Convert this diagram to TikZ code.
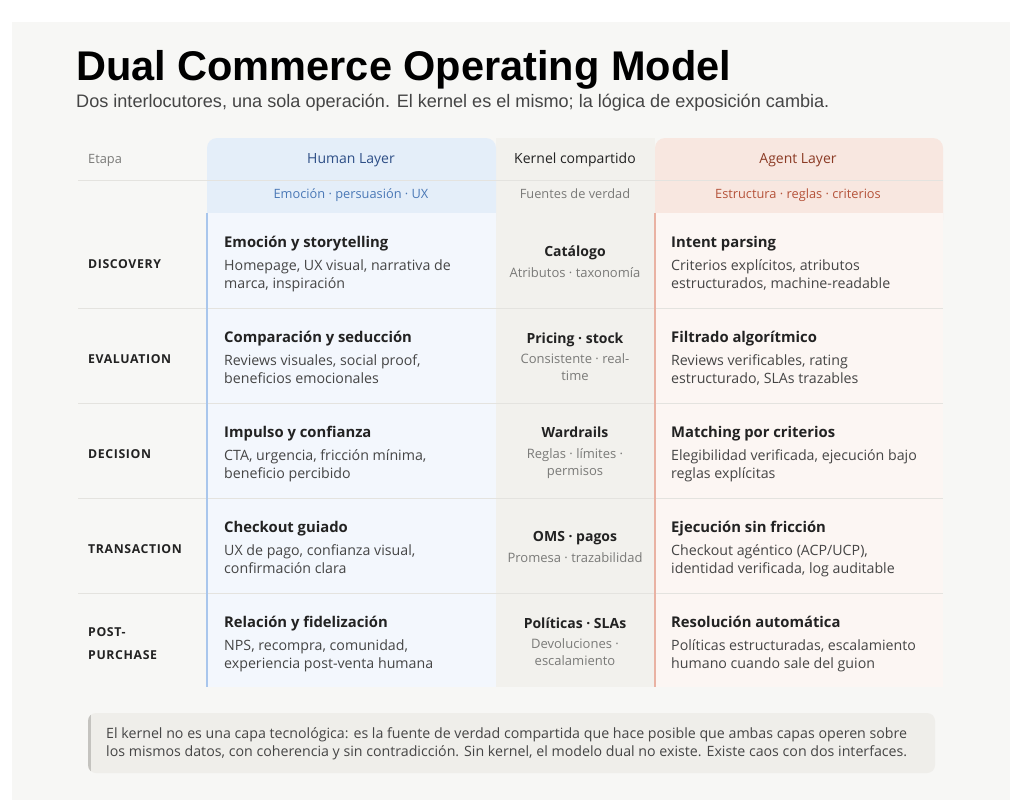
\documentclass[tikz,border=0pt]{standalone}
\usepackage{fontspec}
\usepackage{xcolor}
\usepackage{tikz}
\setmainfont{Open Sans}
\newfontfamily\titlefont{Liberation Sans}
\newfontfamily\stagefont[LetterSpace=5]{Open Sans}

\definecolor{panel}{HTML}{F7F7F5}
\definecolor{rule}{HTML}{E4E3DF}
\definecolor{ink}{HTML}{222222}
\definecolor{body}{HTML}{454545}
\definecolor{mute}{HTML}{7A7A78}
\definecolor{humhead}{HTML}{E4EEF9}
\definecolor{humbody}{HTML}{F3F7FD}
\definecolor{humline}{HTML}{A9C6EC}
\definecolor{humdark}{HTML}{2D4E86}
\definecolor{humsoft}{HTML}{4A78B6}
\definecolor{kernbg}{HTML}{F2F1ED}
\definecolor{agthead}{HTML}{F8E7E0}
\definecolor{agtbody}{HTML}{FCF6F3}
\definecolor{agtline}{HTML}{E9B2A3}
\definecolor{agtdark}{HTML}{8B3A24}
\definecolor{agtsoft}{HTML}{B5533A}
\definecolor{footbg}{HTML}{EFEEEA}
\definecolor{footrule}{HTML}{C4C3BF}

\begin{document}
\begin{tikzpicture}[x=1pt,y=-1pt,
    headtxt/.style={anchor=base,font=\fontsize{14}{16}\selectfont},
    subtxt/.style={anchor=base,font=\fontsize{12.8}{15}\selectfont},
    stagelbl/.style={anchor=base west,inner sep=0pt,align=left,text=ink,
        font=\stagefont\bfseries\fontsize{12.3}{23}\selectfont},
    celltitle/.style={anchor=base west,inner sep=0pt,text=ink,
        font=\bfseries\fontsize{14.8}{18}\selectfont},
    celldesc/.style={anchor=base west,inner sep=0pt,align=left,text=body,
        font=\fontsize{14.2}{18}\selectfont},
    kertitle/.style={anchor=base,inner sep=0pt,text=ink,
        font=\bfseries\fontsize{14}{17}\selectfont},
    kersub/.style={anchor=base,inner sep=0pt,align=center,text=mute,
        font=\fontsize{13}{17}\selectfont}]
    \useasboundingbox (0,0) rectangle (1024,800);
    \fill[white] (0,0) rectangle (1024,800);
    \fill[panel] (12,22) rectangle (1010,800);

    % title
    \node[anchor=base west,inner sep=0pt,font=\titlefont\bfseries\fontsize{41.5}{44}\selectfont] (title) at (76,81) {Dual Commerce Operating Model};
    \node[anchor=base west,inner sep=0pt,text=body,font=\titlefont\fontsize{18.1}{20}\selectfont] (subtitle) at (76,107) {Dos interlocutores, una sola operación. El kernel es el mismo; la lógica de exposición cambia.};

    % column backgrounds
    \fill[kernbg] (496,138) rectangle (655,687);
    \fill[humhead,rounded corners=10pt] (207,138) rectangle (496,230);
    \fill[humbody] (207,213) rectangle (496,687);
    \fill[agthead,rounded corners=10pt] (655,138) rectangle (943,230);
    \fill[agtbody] (655,213) rectangle (943,687);

    % rules
    \draw[rule] (78,180) -- (943,180);
    \draw[rule] (78,308) -- (943,308);
    \draw[rule] (78,403) -- (943,403);
    \draw[rule] (78,498) -- (943,498);
    \draw[rule] (78,593) -- (943,593);
    \draw[humline,line width=2pt] (207,213) -- (207,687);
    \draw[agtline,line width=2pt] (655,213) -- (655,687);

    % header
    \node[anchor=base west,inner sep=0pt,text=mute,font=\fontsize{12.8}{15}\selectfont] (etapa) at (88,163) {Etapa};
    \node[headtxt,text=humdark] (human) at (351,163) {Human Layer};
    \node[headtxt,text=ink] (kernel) at (575,163) {Kernel compartido};
    \node[headtxt,text=agtdark] (agent) at (798,163) {Agent Layer};
    \node[subtxt,text=humsoft] (humansub) at (351,198) {Emoción · persuasión · UX};
    \node[subtxt,text=mute] (kernelsub) at (575,198) {Fuentes de verdad};
    \node[subtxt,text=agtsoft] (agentsub) at (798,198) {Estructura · reglas · criterios};

    % discovery
    \node[stagelbl] (discovery) at (88,268) {DISCOVERY};
    \node[celltitle] (h1) at (224,247) {Emoción y storytelling};
    \node[celldesc] (h1d) at (224,288) {Homepage, UX visual, narrativa de\\marca, inspiración};
    \node[kertitle] (k1) at (575,256) {Catálogo};
    \node[kersub] (k1d) at (575,277) {Atributos · taxonomía};
    \node[celltitle] (a1) at (671,247) {Intent parsing};
    \node[celldesc] (a1d) at (671,288) {Criterios explícitos, atributos\\estructurados, machine-readable};

    % evaluation
    \node[stagelbl] (evaluation) at (88,363) {EVALUATION};
    \node[celltitle] (h2) at (224,342) {Comparación y seducción};
    \node[celldesc] (h2d) at (224,383) {Reviews visuales, social proof,\\beneficios emocionales};
    \node[kertitle] (k2) at (575,343) {Pricing · stock};
    \node[kersub] (k2d) at (575,380) {Consistente · real-\\time};
    \node[celltitle] (a2) at (671,342) {Filtrado algorítmico};
    \node[celldesc] (a2d) at (671,383) {Reviews verificables, rating\\estructurado, SLAs trazables};

    % decision
    \node[stagelbl] (decision) at (88,458) {DECISION};
    \node[celltitle] (h3) at (224,437) {Impulso y confianza};
    \node[celldesc] (h3d) at (224,478) {CTA, urgencia, fricción mínima,\\beneficio percibido};
    \node[kertitle] (k3) at (575,437) {Wardrails};
    \node[kersub] (k3d) at (575,475) {Reglas · límites ·\\permisos};
    \node[celltitle] (a3) at (671,437) {Matching por criterios};
    \node[celldesc] (a3d) at (671,478) {Elegibilidad verificada, ejecución bajo\\reglas explícitas};

    % transaction
    \node[stagelbl] (transaction) at (88,553) {TRANSACTION};
    \node[celltitle] (h4) at (224,532) {Checkout guiado};
    \node[celldesc] (h4d) at (224,573) {UX de pago, confianza visual,\\confirmación clara};
    \node[kertitle] (k4) at (575,541) {OMS · pagos};
    \node[kersub] (k4d) at (575,562) {Promesa · trazabilidad};
    \node[celltitle] (a4) at (671,532) {Ejecución sin fricción};
    \node[celldesc] (a4d) at (671,573) {Checkout agéntico (ACP/UCP),\\identidad verificada, log auditable};

    % post-purchase
    \node[stagelbl] (postpurchase) at (88,659) {POST-\\PURCHASE};
    \node[celltitle] (h5) at (224,627) {Relación y fidelización};
    \node[celldesc] (h5d) at (224,668) {NPS, recompra, comunidad,\\experiencia post-venta humana};
    \node[kertitle] (k5) at (575,628) {Políticas · SLAs};
    \node[kersub] (k5d) at (575,665) {Devoluciones ·\\escalamiento};
    \node[celltitle] (a5) at (671,627) {Resolución automática};
    \node[celldesc] (a5d) at (671,668) {Políticas estructuradas, escalamiento\\humano cuando sale del guion};

    % footer note
    \fill[footbg,rounded corners=8pt] (88,713) rectangle (935,773);
    \begin{scope}
        \clip[rounded corners=8pt] (88,713) rectangle (935,773);
        \fill[footrule] (88,713) rectangle (90.5,773);
    \end{scope}
    \node[anchor=base west,inner sep=0pt,align=left,text=body,font=\fontsize{14.2}{18}\selectfont] (note) at (106,756) {El kernel no es una capa tecnológica: es la fuente de verdad compartida que hace posible que ambas capas operen sobre\\los mismos datos, con coherencia y sin contradicción. Sin kernel, el modelo dual no existe. Existe caos con dos interfaces.};
\end{tikzpicture}
\end{document}
